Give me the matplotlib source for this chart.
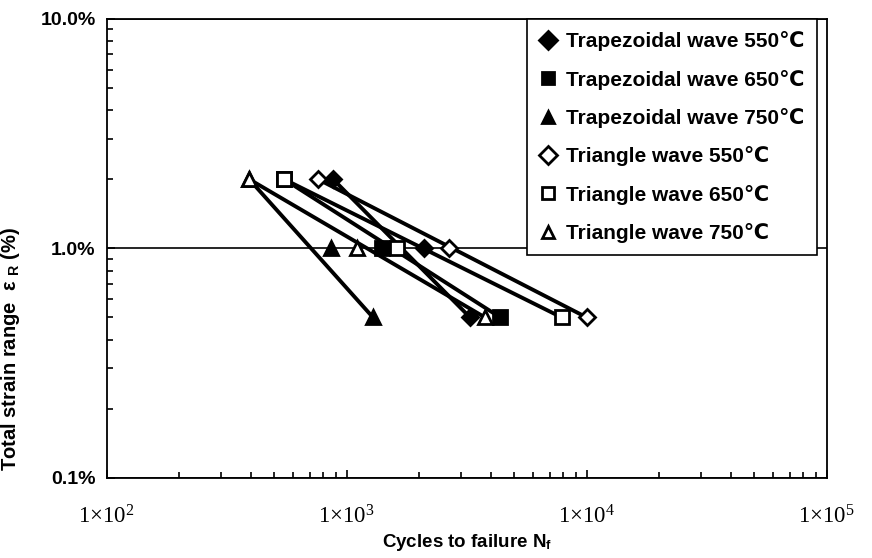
import matplotlib
matplotlib.use("Agg")
import matplotlib.pyplot as plt
from matplotlib.ticker import FixedLocator, FixedFormatter, NullFormatter, LogLocator

plt.rcParams['font.family'] = ['Liberation Sans', 'DejaVu Sans']
plt.rcParams['mathtext.fontset'] = 'custom'
plt.rcParams['mathtext.rm'] = 'Liberation Serif'
plt.rcParams['mathtext.it'] = 'Liberation Serif:italic'

strain = [2.0, 1.0, 0.5]
trap550_N = [877, 2099, 3266]
trap650_N = [548, 1403, 4365]
trap750_N = [392, 861, 1287]
tri550_N = [759, 2672, 10000]
tri650_N = [548, 1622, 7870]
tri750_N = [392, 1101, 3770]

series = [
    ("Trapezoidal wave 550\u2103", trap550_N, "D", "black"),
    ("Trapezoidal wave 650\u2103", trap650_N, "s", "black"),
    ("Trapezoidal wave 750\u2103", trap750_N, "^", "black"),
    ("Triangle wave 550\u2103", tri550_N, "D", "white"),
    ("Triangle wave 650\u2103", tri650_N, "s", "white"),
    ("Triangle wave 750\u2103", tri750_N, "^", "white"),
]

xticks = [1e2, 1e3, 1e4, 1e5]
xticklabels = [r"$\mathrm{1{\times}10^{2}}$", r"$\mathrm{1{\times}10^{3}}$",
               r"$\mathrm{1{\times}10^{4}}$", r"$\mathrm{1{\times}10^{5}}$"]
yticks = [0.1, 1.0, 10.0]
yticklabels = ["0.1%", "1.0%", "10.0%"]

fig = plt.figure(figsize=(8.72, 5.58), dpi=100)
ax = fig.add_axes([0.1224, 0.1434, 0.8257, 0.8231])

# connecting lines (first to last point of each series)
for label, N, m, fc in series:
    ax.plot([N[0], N[-1]], [strain[0], strain[-1]], color="black", lw=2.8,
            solid_capstyle="round", zorder=2)

handles = []
for label, N, m, fc in series:
    ms = 8.5 if m == "D" else 10
    h, = ax.plot(N, strain, linestyle="none", marker=m, markersize=ms,
                 markerfacecolor=fc, markeredgecolor="black", markeredgewidth=2,
                 label=label, zorder=3)
    handles.append(h)

ax.set_xscale("log")
ax.set_yscale("log")
ax.set_xlim(1e2, 1e5)
ax.set_ylim(0.1, 10.0)

ax.xaxis.set_major_locator(FixedLocator(xticks))
ax.xaxis.set_major_formatter(FixedFormatter(xticklabels))
ax.xaxis.set_minor_locator(LogLocator(base=10, subs=range(2, 10)))
ax.xaxis.set_minor_formatter(NullFormatter())
ax.yaxis.set_major_locator(FixedLocator(yticks))
ax.yaxis.set_major_formatter(FixedFormatter(yticklabels))
ax.yaxis.set_minor_locator(LogLocator(base=10, subs=range(2, 10)))
ax.yaxis.set_minor_formatter(NullFormatter())

ax.tick_params(axis="both", which="both", direction="in", top=False, right=False, color="black")
ax.tick_params(axis="both", which="major", length=6, width=1.2)
ax.tick_params(axis="both", which="minor", length=4, width=1.2)
ax.tick_params(axis="x", which="major", pad=20, labelsize=16.5)
ax.tick_params(axis="y", which="major", pad=8, labelsize=14)
for lab in ax.get_yticklabels():
    lab.set_fontweight("bold")

ax.yaxis.grid(True, which="major", color="black", lw=1.2)
for s in ax.spines.values():
    s.set_linewidth(1.3)
    s.set_color("black")

ax.set_xlabel("Cycles to failure N$_\\mathregular{f}$", fontsize=13.5, fontweight="bold", labelpad=2)
ax.set_ylabel("Total strain range  \u03b5 $_\\mathregular{R}$ (%)", fontsize=14.5, fontweight="bold")
ax.yaxis.set_label_coords(-0.118, 0.281)

leg = ax.legend(handles=handles, loc="upper right", bbox_to_anchor=(0.986, 1.0),
                frameon=True, fancybox=False, edgecolor="black", framealpha=1,
                prop={"size": 15, "weight": "bold"}, handlelength=0.75,
                handletextpad=0.5, labelspacing=0.88, borderpad=0.6,
                borderaxespad=0)
leg.get_frame().set_linewidth(1.2)
for h in leg.legend_handles:
    h.set_markersize(9)

fig.savefig("out.png", dpi=100)
